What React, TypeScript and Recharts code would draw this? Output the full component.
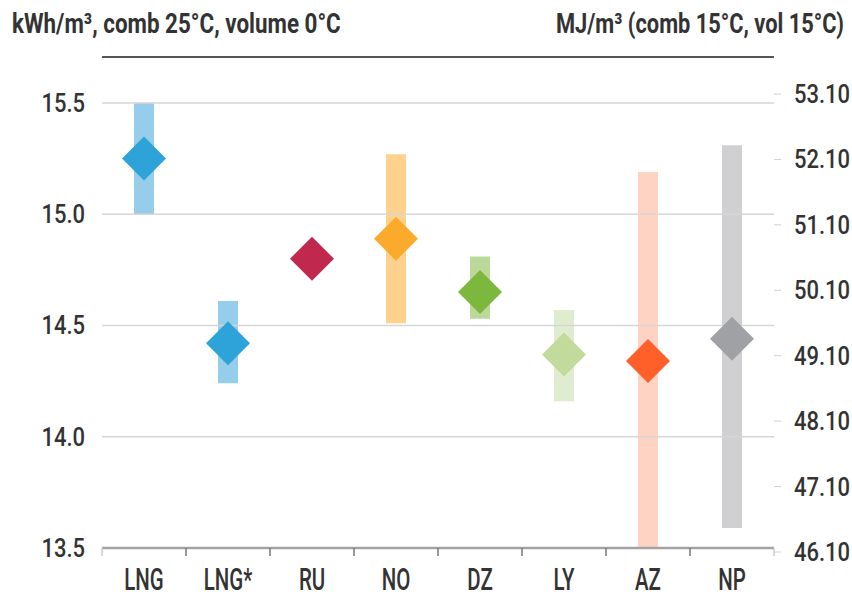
import React from 'react';
import {
  ComposedChart,
  Bar,
  Scatter,
  Cell,
  XAxis,
  YAxis,
  ReferenceLine,
} from 'recharts';

// origins of the gas
const categories = ['LNG', 'LNG*', 'RU', 'NO', 'DZ', 'LY', 'AZ', 'NP'];
// range of values, kWh/m³
const rangeLow = [15.0, 14.24, 14.76, 14.51, 14.53, 14.16, 13.5, 13.59];
const rangeHigh = [15.5, 14.61, 14.84, 15.27, 14.81, 14.57, 15.19, 15.31];
// typical value (diamond)
const typical = [15.25, 14.42, 14.8, 14.89, 14.65, 14.37, 14.34, 14.44];

const leftTicks = [13.5, 14.0, 14.5, 15.0, 15.5];
const rightTicks = [46.1, 47.1, 48.1, 49.1, 50.1, 51.1, 52.1, 53.1];

const lightColors = ['#95cdea', '#95cdea', '#e7a3b4', '#fed18e', '#bcd99a', '#dfecd0', '#fed3c3', '#d0d0d3'];
const darkColors = ['#2ea3d9', '#2ea3d9', '#c0284e', '#fbaa2c', '#7cb83d', '#c2db9c', '#ff5f28', '#a0a1a5'];

const rows = categories.map((name, i) => ({
  name,
  range: [rangeLow[i], rangeHigh[i]],
  value: typical[i],
}));

const FONT = "Roboto, 'Noto Sans', sans-serif";
const TEXT = '#333333';

const Diamond = (props: any) => {
  const { cx, cy, index } = props;
  const r = 22;
  return (
    <polygon
      points={`${cx},${cy - r} ${cx + r},${cy} ${cx},${cy + r} ${cx - r},${cy}`}
      fill={darkColors[index]}
    />
  );
};

// condensed look: squeeze the glyphs horizontally around the anchor point
const NarrowText = ({ x, y, sx, anchor, size, dy, weight = 500, children }: any) => (
  <text
    transform={`translate(${x},${y}) scale(${sx},1)`}
    dy={dy}
    textAnchor={anchor}
    fill={TEXT}
    fontSize={size}
    fontWeight={weight}
    fontFamily={FONT}
  >
    {children}
  </text>
);

const XTick = (props: any) => {
  const { x, y, payload, index } = props;
  const half = payload.offset || 42;
  const last = index === categories.length - 1;
  return (
    <g>
      <line x1={x - half} x2={x - half} y1={y - 18} y2={y - 10} stroke={index === 0 ? '#cccccc' : '#777777'} strokeWidth={1.5} />
      {last && (
        <line x1={x + half} x2={x + half} y1={y - 18} y2={y - 10} stroke="#cccccc" strokeWidth={1.5} />
      )}
      <NarrowText x={x} y={y} sx={0.66} anchor="middle" size={31} dy="0.78em">
        {payload.value}
      </NarrowText>
    </g>
  );
};

const LeftTick = (props: any) => (
  <NarrowText x={props.x} y={props.y} sx={0.88} anchor="end" size={25} dy="0.36em">
    {Number(props.payload.value).toFixed(1)}
  </NarrowText>
);

const RightTick = (props: any) => (
  <NarrowText x={props.x} y={props.y} sx={0.88} anchor="start" size={25} dy="0.36em">
    {Number(props.payload.value).toFixed(2)}
  </NarrowText>
);

export default function App() {
  return (
    <div style={{ position: 'absolute', left: 0, top: 0, width: 852, height: 596, background: '#fff' }}>
      <svg width={852} height={50} style={{ position: 'absolute', left: 0, top: 0 }}>
        <NarrowText x={12} y={33} sx={0.8} anchor="start" size={28} weight="bold">
          kWh/m³, comb 25°C, volume 0°C
        </NarrowText>
        <NarrowText x={844} y={33} sx={0.78} anchor="end" size={28} weight="bold">
          MJ/m³ (comb 15°C, vol 15°C)
        </NarrowText>
      </svg>
      <div style={{ position: 'absolute', left: 102, top: 56, width: 672, height: 2, background: '#555' }} />
      <ComposedChart
        width={852}
        height={596}
        data={rows}
        margin={{ top: 94, right: 0, bottom: 0, left: 0 }}
      >
        <XAxis
          dataKey="name"
          height={44}
          axisLine={false}
          tickLine={false}
          tickSize={0}
          tickMargin={14}
          interval={0}
          tick={<XTick />}
        />
        <YAxis
          width={102}
          type="number"
          domain={[13.482, 15.5404]}
          ticks={leftTicks}
          allowDataOverflow
          axisLine={false}
          tickLine={false}
          tickSize={0}
          tickMargin={17}
          tick={<LeftTick />}
        />
        <YAxis
          yAxisId="right"
          orientation="right"
          width={78}
          type="number"
          domain={[46.1, 53.1]}
          ticks={rightTicks}
          allowDataOverflow
          axisLine={false}
          tickSize={7}
          tickLine={{ stroke: '#d0d0d0' }}
          tickMargin={13}
          tick={<RightTick />}
        />
        {leftTicks.slice(1).map((t) => (
          <ReferenceLine key={t} y={t} stroke="#d6d6d6" strokeWidth={1.5} />
        ))}
        <ReferenceLine y={leftTicks[0]} stroke="#a3a3a3" strokeWidth={2.5} />
        <Bar dataKey="range" barSize={20} isAnimationActive={false}>
          {rows.map((r, i) => (
            <Cell key={r.name} fill={lightColors[i]} />
          ))}
        </Bar>
        <Scatter dataKey="value" shape={<Diamond />} isAnimationActive={false} />
      </ComposedChart>
    </div>
  );
}
